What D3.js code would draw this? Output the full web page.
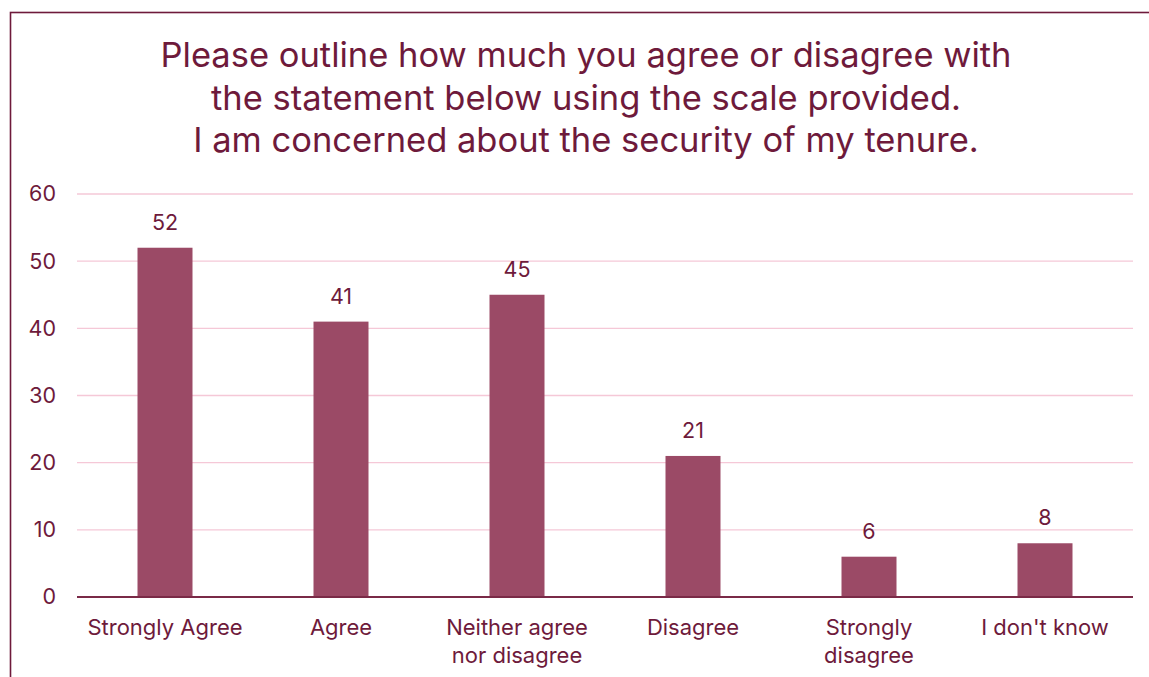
<!DOCTYPE html>
<html>
<head>
<meta charset="utf-8">
<script src="https://cdn.jsdelivr.net/npm/d3@7"></script>
<style>
  html, body { margin: 0; padding: 0; background: #fff; }
  svg { display: block; font-family: Inter, "Noto Sans", sans-serif; }
</style>
</head>
<body>
<svg id="chart" width="1149" height="677"></svg>
<script>
// Survey responses
const categories = [
  ["Strongly Agree"],
  ["Agree"],
  ["Neither agree", "nor disagree"],
  ["Disagree"],
  ["Strongly", "disagree"],
  ["I don't know"]
];
const counts = [52, 41, 45, 21, 6, 8];
const yTicks = [0, 10, 20, 30, 40, 50, 60];
const titleLines = [
  "Please outline how much you agree or disagree with",
  "the statement below using the scale provided.",
  "I am concerned about the security of my tenure."
];

const textColor = "#6e1a3b";
const barColor = "#9b4a66";
const gridColor = "#f5c8d7";

const svg = d3.select("#chart");

// Frame around the chart area
svg.append("rect")
  .attr("x", 10.5).attr("y", 12.5)
  .attr("width", 1200).attr("height", 700)
  .attr("fill", "none")
  .attr("stroke", textColor)
  .attr("stroke-width", 1.6);

// Title
svg.append("text")
  .attr("text-anchor", "middle")
  .attr("fill", textColor)
  .attr("font-size", 34.5)
  .selectAll("tspan")
  .data(titleLines)
  .join("tspan")
  .attr("x", 586)
  .attr("y", (d, i) => 67 + i * 42.5)
  .text(d => d);

const plotLeft = 77, plotRight = 1133, plotTop = 194, plotBottom = 597;

const x = d3.scaleBand()
  .domain(d3.range(categories.length))
  .range([plotLeft, plotRight])
  .paddingInner(0.6875)
  .paddingOuter(0.34375);

const y = d3.scaleLinear().domain([0, 60]).range([plotBottom, plotTop]);

// Gridlines
svg.append("g")
  .selectAll("line")
  .data(yTicks.filter(d => d > 0))
  .join("line")
  .attr("x1", plotLeft).attr("x2", plotRight)
  .attr("y1", d => y(d)).attr("y2", d => y(d))
  .attr("stroke", gridColor)
  .attr("stroke-width", 1.3);

// Y axis labels
const yAxis = svg.append("g")
  .attr("transform", `translate(${plotLeft - 21},0)`)
  .call(d3.axisLeft(y).tickValues(yTicks).tickSize(0).tickPadding(0));
yAxis.select(".domain").remove();
yAxis.selectAll("text")
  .attr("fill", textColor)
  .attr("font-size", 21.5)
  .attr("font-family", "Inter, 'Noto Sans', sans-serif");

// Bars
svg.append("g")
  .selectAll("rect")
  .data(counts)
  .join("rect")
  .attr("x", (d, i) => x(i))
  .attr("width", x.bandwidth())
  .attr("y", d => y(d))
  .attr("height", d => y(0) - y(d))
  .attr("fill", barColor);

// Value labels
svg.append("g")
  .selectAll("text")
  .data(counts)
  .join("text")
  .attr("x", (d, i) => x(i) + x.bandwidth() / 2)
  .attr("y", d => y(d) - 18)
  .attr("text-anchor", "middle")
  .attr("fill", textColor)
  .attr("font-size", 21.5)
  .text(d => d);

// Baseline
svg.append("line")
  .attr("x1", plotLeft).attr("x2", plotRight)
  .attr("y1", y(0)).attr("y2", y(0))
  .attr("stroke", "#7a2a47")
  .attr("stroke-width", 2);

// Category labels
const catG = svg.append("g");
categories.forEach((lines, i) => {
  const t = catG.append("text")
    .attr("text-anchor", "middle")
    .attr("fill", textColor)
    .attr("font-size", 22);
  lines.forEach((ln, j) => {
    t.append("tspan")
      .attr("x", x(i) + x.bandwidth() / 2)
      .attr("y", 635 + j * 28)
      .text(ln);
  });
});
</script>
</body>
</html>
